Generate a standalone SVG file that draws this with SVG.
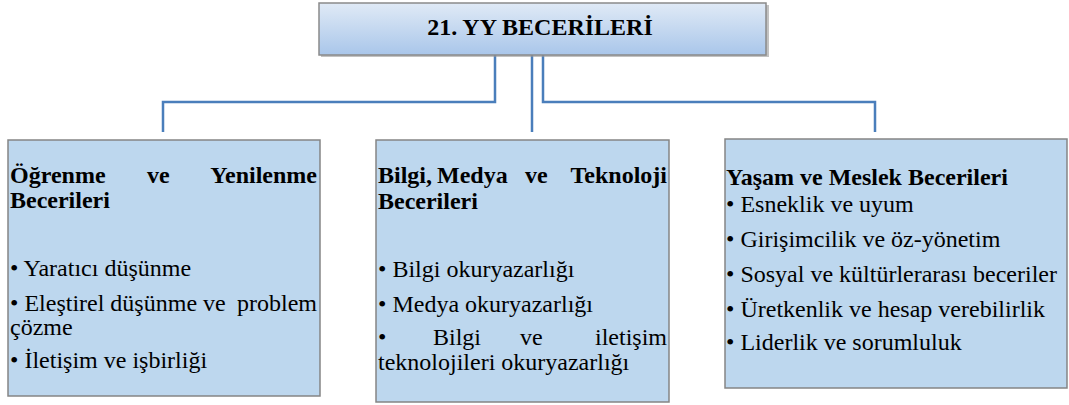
<svg xmlns="http://www.w3.org/2000/svg" width="1069" height="405" viewBox="0 0 1069 405">
<defs>
<linearGradient id="tg" x1="0" y1="0" x2="0" y2="1">
<stop offset="0" stop-color="#e0eaf6"/>
<stop offset="1" stop-color="#a9c6ea"/>
</linearGradient>
</defs>
<style>
.box{fill:#bdd7ee;stroke:#858585;stroke-width:1.5}
.conn{fill:none;stroke:#4a7ebb;stroke-width:2.5}
text{font-family:"Liberation Serif","Times New Roman",serif;font-size:24px;fill:#000}
.b{font-weight:bold;font-size:24px}
</style>
<rect width="1069" height="405" fill="#fff"/>
<g id="connectors">
<path class="conn" d="M495 55 V102 H163 V132"/>
<path class="conn" d="M532 55 V132"/>
<path class="conn" d="M543 55 V102 H875 V132"/>
</g>
<g id="root">
<rect x="321" y="5" width="448" height="52" fill="#9a9a9a" opacity="0.6"/>
<rect x="319" y="3" width="447" height="52" fill="url(#tg)" stroke="#8a8a8a" stroke-width="1.5"/>
<text class="b" x="540" y="35" text-anchor="middle" font-size="24.5">21. YY BECERİLERİ</text>
</g>
<g id="node-left">
<rect class="box" x="8" y="140" width="312" height="256"/>
<text class="b" x="10" y="183">Öğrenme</text>
<text class="b" x="147" y="183">ve</text>
<text class="b" x="317" y="183" text-anchor="end">Yenilenme</text>
<text class="b" x="10" y="208">Becerileri</text>
<text x="10" y="276">• Yaratıcı düşünme</text>
<text x="10" y="311">• Eleştirel düşünme ve</text>
<text x="317" y="311" text-anchor="end">problem</text>
<text x="10" y="335">çözme</text>
<text x="10" y="368">• İletişim ve işbirliği</text>
</g>
<g id="node-middle">
<rect class="box" x="376" y="140" width="293" height="262"/>
<text class="b" x="378" y="183">Bilgi,</text>
<text class="b" x="437" y="183">Medya</text>
<text class="b" x="525" y="183">ve</text>
<text class="b" x="667" y="183" text-anchor="end">Teknoloji</text>
<text class="b" x="378" y="209">Becerileri</text>
<text x="378" y="277">• Bilgi okuryazarlığı</text>
<text x="378" y="312">• Medya okuryazarlığı</text>
<text x="378" y="345">•</text>
<text x="433" y="345">Bilgi</text>
<text x="520" y="345">ve</text>
<text x="667" y="345" text-anchor="end">iletişim</text>
<text x="378" y="370">teknolojileri okuryazarlığı</text>
</g>
<g id="node-right">
<rect class="box" x="725" y="139" width="342" height="249"/>
<text class="b" x="726" y="185">Yaşam ve Meslek Becerileri</text>
<text x="726" y="212">• Esneklik ve uyum</text>
<text x="726" y="247">• Girişimcilik ve öz-yönetim</text>
<text x="726" y="282">• Sosyal ve kültürlerarası beceriler</text>
<text x="726" y="317">• Üretkenlik ve hesap verebilirlik</text>
<text x="726" y="350">• Liderlik ve sorumluluk</text>
</g>
</svg>
